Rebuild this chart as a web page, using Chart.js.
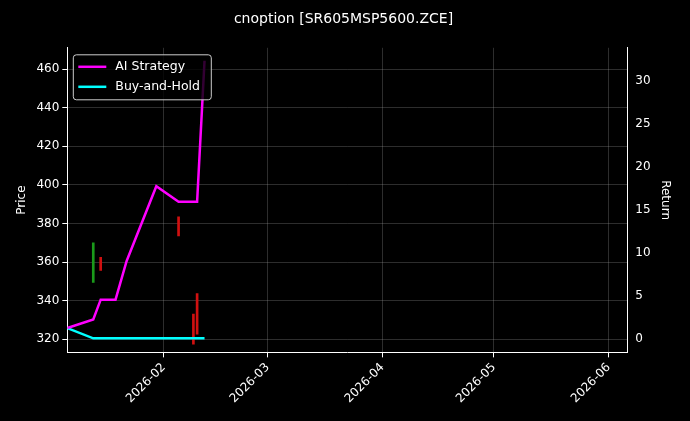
<!DOCTYPE html>
<html>
<head>
<meta charset="utf-8">
<script src="https://cdn.jsdelivr.net/npm/chart.js@4"></script>
<style>
  body { margin: 0; background: #000; }
  #wrap { width: 690px; height: 421px; }
</style>
</head>
<body>
<div id="wrap"><canvas id="c"></canvas></div>
<script>
// days counted from 2026-01-01 (day 0)
var monthTicks = [31, 59, 90, 120, 151];
var monthLabels = ["2026-02", "2026-03", "2026-04", "2026-05", "2026-06"];

var stratDays = [5, 12, 14, 18, 21, 29, 35, 40, 42];
var stratReturn = [1.3, 2.3, 4.6, 4.6, 9.1, 17.8, 16.0, 16.0, 32.4];

var holdDays = [5, 12, 42];
var holdReturn = [1.3, 0.1, 0.1];

var candleDays = [12, 14, 35, 39, 40];
var candleLow = [349.5, 355.6, 373.5, 317.4, 322.6];
var candleHigh = [370, 362.5, 383.4, 333, 343.6];
var candleColor = ["#1a9a1a", "#d01010", "#d01010", "#d01010", "#d01010"];

var candles = candleDays.map(function (d, i) {
  return { x: d, y: [candleLow[i], candleHigh[i]] };
});

var legendInside = {
  id: "legendInside",
  afterDraw: function (chart) {
    var ctx = chart.ctx;
    var a = chart.chartArea;
    var x = a.left + 6, y = a.top + 7;
    ctx.save();
    ctx.fillStyle = "rgba(0,0,0,0.8)";
    ctx.strokeStyle = "#cccccc";
    ctx.lineWidth = 1;
    ctx.beginPath();
    ctx.roundRect(x, y, 138, 45, 3);
    ctx.fill();
    ctx.stroke();
    var items = [["AI Strategy", "#ff00ff"], ["Buy-and-Hold", "#00ffff"]];
    ctx.font = "12.5px 'DejaVu Sans'";
    ctx.textBaseline = "middle";
    items.forEach(function (it, i) {
      var yy = y + 12 + i * 20;
      ctx.strokeStyle = it[1];
      ctx.lineWidth = 2.5;
      ctx.beginPath();
      ctx.moveTo(x + 5, yy);
      ctx.lineTo(x + 33, yy);
      ctx.stroke();
      ctx.fillStyle = "#ffffff";
      ctx.fillText(it[0], x + 42, yy);
    });
    ctx.restore();
  }
};

var gridStyle = { color: "rgba(160,160,160,0.28)", borderDash: [3, 3], tickColor: "#ffffff", tickLength: 5, offset: false };

new Chart(document.getElementById("c"), {
  data: {
    datasets: [
      {
        type: "bar", data: candles, yAxisID: "y",
        backgroundColor: candleColor, barThickness: 2, order: 3
      },
      {
        type: "line", label: "AI Strategy", yAxisID: "y1",
        data: stratDays.map(function (d, i) { return { x: d, y: stratReturn[i] }; }),
        borderColor: "#ff00ff", borderWidth: 2.5, pointRadius: 0, order: 1
      },
      {
        type: "line", label: "Buy-and-Hold", yAxisID: "y1",
        data: holdDays.map(function (d, i) { return { x: d, y: holdReturn[i] }; }),
        borderColor: "#00ffff", borderWidth: 2.5, pointRadius: 0, order: 2
      }
    ]
  },
  options: {
    responsive: true,
    maintainAspectRatio: false,
    animation: false,
    layout: { padding: { left: 11, right: 14, top: 3, bottom: 12 } },
    plugins: {
      legend: { display: false },
      tooltip: { enabled: false },
      title: {
        display: true, text: "cnoption [SR605MSP5600.ZCE]", color: "#ffffff",
        font: { family: "DejaVu Sans", size: 14, weight: "normal" },
        padding: { top: 8, bottom: 20 }
      }
    },
    scales: {
      x: {
        type: "linear", min: 5, max: 156, offset: false,
        afterBuildTicks: function (s) { s.ticks = monthTicks.map(function (v) { return { value: v }; }); },
        ticks: {
          color: "#ffffff", font: { family: "DejaVu Sans", size: 12 }, maxRotation: 45, minRotation: 45,
          autoSkip: false,
          callback: function (v) { return monthLabels[monthTicks.indexOf(v)]; }
        },
        grid: gridStyle,
        border: { color: "#ffffff", width: 1 }
      },
      y: {
        position: "left", min: 313.2, max: 471,
        afterBuildTicks: function (s) { s.ticks = [320, 340, 360, 380, 400, 420, 440, 460].map(function (v) { return { value: v }; }); },
        ticks: { color: "#ffffff", font: { family: "DejaVu Sans", size: 12 } },
        title: { display: true, text: "Price", color: "#ffffff", font: { family: "DejaVu Sans", size: 12 } },
        grid: gridStyle,
        border: { color: "#ffffff", width: 1 }
      },
      y1: {
        position: "right", min: -1.53, max: 33.9,
        afterBuildTicks: function (s) { s.ticks = [0, 5, 10, 15, 20, 25, 30].map(function (v) { return { value: v }; }); },
        ticks: { color: "#ffffff", font: { family: "DejaVu Sans", size: 12 } },
        title: { display: true, text: "Return", color: "#ffffff", font: { family: "DejaVu Sans", size: 12 } },
        grid: { display: false, tickColor: "#ffffff", tickLength: 5 },
        border: { color: "#ffffff", width: 1 }
      }
    }
  },
  plugins: [legendInside, {
    id: "bg",
    beforeDraw: function (chart) {
      var ctx = chart.ctx;
      ctx.save();
      ctx.fillStyle = "#000";
      ctx.fillRect(0, 0, chart.width, chart.height);
      ctx.restore();
    }
  }]
});
</script>
</body>
</html>
